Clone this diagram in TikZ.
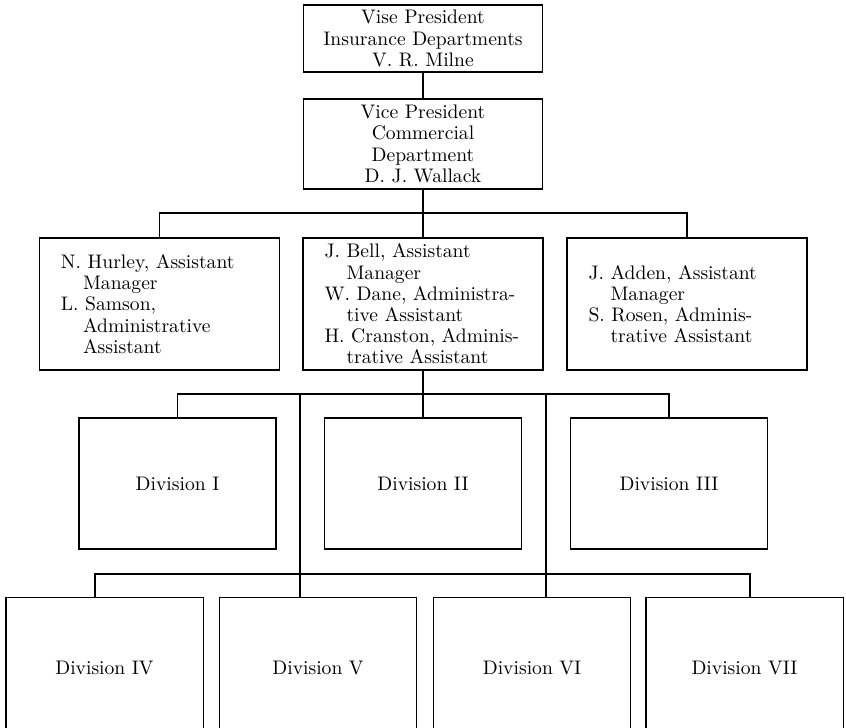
\documentclass[tikz,border=0pt]{standalone}
\usepackage{fontspec}
\newcommand{\ci}{\hspace*{11pt}}
\begin{document}
\begin{tikzpicture}[x=0.5pt,y=-0.5pt,
  line width=0.6pt,
  every node/.style={font=\fontsize{9.8pt}{10.6pt}\selectfont},
  headbox/.style={draw, inner sep=1pt, align=center, minimum width=119.5pt},
  staffbox/.style={draw, inner ysep=1pt, inner xsep=10.75pt, text width=98.5pt,
                   align=left, minimum height=66pt},
  divbox/.style={draw, inner sep=1pt, minimum width=98.5pt, minimum height=65.5pt},
  openbox/.style={draw=none, inner sep=1pt, minimum width=98pt, minimum height=65pt,
                  text height=11.8pt, text depth=0pt}]
\useasboundingbox (0,0) rectangle (846,728);

% executives
\node[headbox, minimum height=33.5pt] (vpi) at (423,38.5)
  {Vise President\\Insurance Departments\\V. R. Milne};
\node[headbox, minimum height=45pt] (vpc) at (423,144)
  {Vice President\\Commercial\\Department\\D. J. Wallack};

% staff
\node[staffbox] (mgrL) at (159.5,304)
  {N. Hurley, Assistant\\\ci Manager\\L. Samson,\\\ci Administrative\\\ci Assistant};
\node[staffbox] (mgrC) at (423,304)
  {J. Bell, Assistant\\\ci Manager\\W. Dane, Administra-\\\ci tive Assistant\\H. Cranston, Adminis-\\\ci trative Assistant};
\node[staffbox] (mgrR) at (687,304)
  {J. Adden, Assistant\\\ci Manager\\S. Rosen, Adminis-\\\ci trative Assistant};

% first row of divisions
\node[divbox] (divA) at (177.5,483.5) {Division I};
\node[divbox] (divB) at (423,483.5) {Division II};
\node[divbox] (divC) at (669,483.5) {Division III};

% second row of divisions (open at the foot)
\node[openbox] (divD) at (104.5,663) {Division IV};
\node[openbox] (divE) at (318,663) {Division V};
\node[openbox] (divF) at (532,663) {Division VI};
\node[openbox] (divG) at (744.5,663) {Division VII};
\foreach \d in {divD,divE,divF,divG}
  \draw (\d.south west) -- (\d.north west) -- (\d.north east) -- (\d.south east);

% connectors
\coordinate (bar1) at (423,213);
\coordinate (bar2) at (423,394);
\coordinate (bar2l) at (300,394);
\coordinate (bar2r) at (546,394);
\coordinate (bar3l) at (95,574);
\coordinate (bar3r) at (750,574);

\draw (vpi.south) -- (vpc.north);
\draw (vpc.south) -- (mgrC.north);
\draw (mgrL.north) |- (bar1) -| (mgrR.north);

\draw (mgrC.south) -- (divB.north);
\draw (divA.north) |- (bar2) -| (divC.north);
\draw (bar2l) -- (bar2l |- divE.north);
\draw (bar2r) -- (bar2r |- divF.north);
\draw (bar3l |- divD.north) -- (bar3l) -- (bar3r) -- (bar3r |- divG.north);
\end{tikzpicture}
\end{document}
